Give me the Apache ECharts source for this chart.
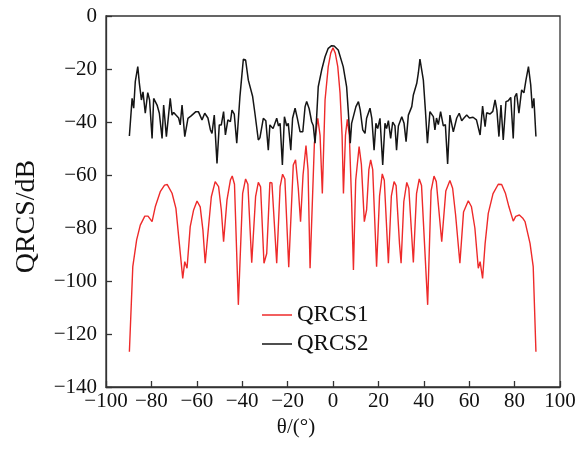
<!DOCTYPE html>
<html>
<head>
<meta charset="utf-8">
<script src="https://cdn.jsdelivr.net/npm/echarts@6/dist/echarts.min.js"></script>
<style>html,body{margin:0;padding:0;background:#fff}#c{width:587px;height:450px}</style>
</head>
<body>
<div id="c"></div>
<script>
const xTicks = [-100,-80,-60,-40,-20,0,20,40,60,80,100];
const yTicks = [-140,-120,-100,-80,-60,-40,-20,0];
const seriesNames = ['QRCS1','QRCS2'];

const redTheta = [-89.7,-88.2,-86.5,-84.9,-82.9,-81.5,-79.7,-78.3,-76.1,-74.2,-73.0,-70.9,-69.2,-67.7,-66.2,-65.3,-64.3,-62.9,-61.4,-59.9,-58.5,-57.3,-56.3,-55.1,-53.6,-51.9,-50.4,-49.2,-48.2,-46.7,-45.2,-44.4,-43.4,-41.7,-39.8,-38.5,-37.5,-35.8,-34.1,-32.9,-31.9,-30.4,-29.2,-27.8,-26.9,-24.8,-23.3,-22.2,-21.2,-19.5,-17.5,-16.5,-15.3,-14.3,-13.2,-11.9,-11.0,-10.1,-8.2,-6.7,-5.7,-4.7,-3.5,-2.1,-1.0,0.0,1.0,2.1,3.1,4.0,4.6,5.5,6.3,7.2,8.2,9.0,10.0,11.5,12.5,13.8,14.8,15.8,16.6,17.5,19.2,20.5,21.7,22.6,24.4,25.7,26.9,27.8,29.3,30.0,31.2,32.5,33.4,35.4,36.8,38.0,39.0,41.7,43.2,44.5,45.5,47.9,49.7,51.5,52.7,54.0,55.9,57.5,59.6,61.0,62.5,64.0,64.8,65.9,67.0,68.4,70.5,72.8,74.3,76.0,77.5,79.4,80.5,82.1,83.5,84.6,86.8,88.2,89.4];
const redDb = [-126.7,-94.6,-84.5,-78.9,-75.5,-75.5,-77.6,-72.0,-66.3,-63.8,-63.6,-66.9,-72.6,-85.8,-99.0,-92.7,-95.2,-79.5,-73.2,-69.8,-72.0,-80.8,-93.3,-82.0,-68.2,-62.5,-64.4,-73.2,-85.2,-69.4,-61.9,-60.4,-63.5,-109.0,-66.9,-61.5,-63.5,-93.1,-68.2,-62.8,-64.5,-93.3,-89.6,-62.8,-63.0,-93.3,-64.4,-59.7,-61.5,-94.8,-56.2,-54.3,-65.0,-77.6,-60.0,-48.9,-58.0,-95.2,-48.0,-38.6,-45.0,-67.0,-31.7,-19.1,-14.0,-12.0,-14.0,-19.1,-29.0,-45.0,-67.0,-45.0,-39.0,-45.0,-70.0,-95.8,-62.0,-49.3,-56.0,-77.6,-73.2,-58.0,-54.3,-58.0,-94.6,-68.0,-59.6,-62.0,-93.3,-68.0,-62.5,-64.0,-86.0,-93.3,-70.0,-62.8,-65.0,-93.0,-67.0,-61.5,-64.0,-109.0,-66.0,-60.4,-62.5,-85.2,-66.0,-62.1,-65.0,-75.0,-93.3,-74.0,-69.7,-72.0,-80.0,-95.2,-92.7,-99.0,-86.0,-74.5,-67.0,-63.5,-63.6,-67.0,-72.0,-77.4,-75.6,-75.1,-76.2,-77.6,-85.8,-94.6,-126.7];

const blackTheta = [-89.7,-88.5,-87.8,-87.1,-86.0,-85.3,-84.4,-83.7,-82.7,-81.6,-80.8,-79.7,-79.0,-77.5,-76.5,-75.3,-74.6,-73.4,-71.7,-70.9,-70.2,-69.4,-68.7,-68.0,-67.3,-66.5,-65.3,-63.9,-62.5,-61.8,-60.4,-59.3,-57.7,-56.5,-55.1,-54.0,-53.3,-52.3,-51.1,-50.1,-49.2,-48.2,-47.4,-46.3,-45.2,-44.5,-43.5,-42.4,-41.0,-40.2,-39.5,-38.5,-37.3,-35.4,-34.4,-32.9,-32.2,-30.7,-29.6,-28.5,-27.8,-26.4,-24.8,-24.0,-23.3,-22.3,-21.4,-20.4,-19.7,-18.6,-17.8,-16.7,-15.7,-14.5,-13.3,-12.3,-11.6,-10.5,-9.4,-8.7,-7.9,-7.2,-6.5,-5.0,-3.5,-2.1,-0.6,0.5,2.3,4.5,6.0,6.7,7.6,8.2,8.9,10.1,11.2,12.0,13.1,14.1,14.8,16.3,17.1,18.1,18.9,19.7,20.7,21.9,22.9,23.6,24.4,25.4,26.3,27.3,28.0,28.8,30.3,31.3,32.2,33.2,34.7,35.4,36.9,37.6,38.3,39.0,39.8,40.7,41.6,42.7,44.2,44.9,45.6,46.4,47.4,48.6,49.5,50.5,51.5,53.0,54.5,55.6,56.7,57.7,58.9,60.1,61.7,63.2,64.8,65.9,67.0,67.7,69.2,70.4,71.4,72.2,73.1,74.0,75.0,76.2,77.2,78.3,79.4,80.1,80.9,81.9,83.1,84.1,85.0,86.1,87.1,87.8,88.5,89.4];
const blackDb = [-45.3,-31.1,-34.8,-24.8,-19.1,-25.4,-31.7,-28.6,-36.7,-28.9,-31.7,-46.2,-31.1,-33.6,-36.7,-46.2,-33.6,-45.5,-31.1,-37.4,-36.4,-37.2,-36.6,-38.5,-41.1,-33.6,-45.5,-38.6,-37.7,-38.2,-36.1,-36.1,-39.2,-36.7,-38.5,-43.0,-44.3,-37.4,-55.6,-41.1,-41.1,-36.1,-44.9,-39.2,-39.9,-35.5,-37.0,-48.0,-30.4,-22.9,-16.3,-16.6,-24.2,-30.4,-36.7,-46.8,-46.0,-38.6,-39.5,-50.6,-41.1,-42.5,-38.6,-41.5,-40.5,-56.2,-38.0,-41.5,-40.5,-50.6,-38.6,-34.8,-38.6,-43.7,-43.7,-34.2,-32.3,-35.0,-39.9,-41.3,-48.0,-38.0,-26.7,-20.4,-15.4,-12.2,-11.2,-11.3,-12.8,-19.1,-26.7,-35.5,-48.0,-40.5,-41.0,-34.2,-32.3,-35.5,-43.0,-44.3,-38.6,-34.8,-38.6,-50.6,-40.5,-42.5,-38.6,-56.2,-40.5,-42.5,-39.5,-46.2,-40.0,-41.5,-50.6,-41.5,-38.0,-40.5,-47.4,-37.4,-34.2,-29.8,-25.4,-21.5,-16.3,-16.3,-24.2,-35.5,-48.0,-36.1,-38.0,-43.0,-38.5,-41.0,-36.1,-41.5,-41.0,-55.8,-37.4,-43.7,-38.5,-36.7,-39.5,-38.5,-37.4,-38.5,-38.2,-39.2,-44.9,-34.0,-41.8,-36.5,-37.0,-36.0,-31.7,-35.5,-45.5,-33.6,-46.8,-32.3,-32.0,-30.7,-46.2,-30.5,-29.2,-36.7,-27.9,-29.0,-24.2,-19.1,-26.0,-34.8,-31.1,-45.5];

const zip = (a, b) => a.map((v, i) => [v, b[i]]);
const fmt = v => String(v).replace('-', '\u2212');
const FONT = '"Liberation Serif", "Times New Roman", serif';
const axisCol = '#333';

const chart = echarts.init(document.getElementById('c'), null, {renderer: 'canvas'});
chart.setOption({
  animation: false,
  backgroundColor: '#fff',
  textStyle: {fontFamily: FONT},
  grid: {left: 106, right: 27, top: 16, bottom: 63, show: true, borderColor: axisCol, borderWidth: 1.3},
  legend: {
    data: seriesNames,
    orient: 'vertical',
    left: 262, top: 303, padding: 0,
    icon: 'rect',
    itemWidth: 30, itemHeight: 1.5, itemGap: 5,
    textStyle: {fontFamily: FONT, fontSize: 23, color: '#111', lineHeight: 24}
  },
  xAxis: {
    type: 'value', min: xTicks[0], max: xTicks[xTicks.length - 1], interval: 20,
    name: 'θ/(°)', nameLocation: 'middle', nameGap: 17,
    nameTextStyle: {fontFamily: FONT, fontSize: 21, color: '#111', padding: [0, 74, 0, 0]},
    axisLine: {show: true, onZero: false, lineStyle: {color: axisCol, width: 1.3}},
    axisTick: {show: true, inside: true, length: 6, lineStyle: {color: axisCol, width: 1.3}},
    axisLabel: {margin: 4, fontFamily: FONT, fontSize: 21, color: '#111', formatter: fmt},
    splitLine: {show: false}
  },
  yAxis: {
    type: 'value', min: yTicks[0], max: yTicks[yTicks.length - 1], interval: 20,
    name: 'QRCS/dB', nameLocation: 'middle', nameGap: 65,
    nameTextStyle: {fontFamily: FONT, fontSize: 28, color: '#111', padding: [0, 30, 0, 0]},
    axisLine: {show: true, onZero: false, lineStyle: {color: axisCol, width: 1.3}},
    axisTick: {show: true, inside: true, length: 6, lineStyle: {color: axisCol, width: 1.3}},
    axisLabel: {margin: 9, fontFamily: FONT, fontSize: 21, color: '#111', formatter: fmt},
    splitLine: {show: false}
  },
  series: [
    {name: seriesNames[0], type: 'line', data: zip(redTheta, redDb), symbol: 'none',
     lineStyle: {color: '#ee2a2a', width: 1.4}, itemStyle: {color: '#ee2a2a'}, z: 2},
    {name: seriesNames[1], type: 'line', data: zip(blackTheta, blackDb), symbol: 'none',
     lineStyle: {color: '#151515', width: 1.5}, itemStyle: {color: '#151515'}, z: 3}
  ]
});
</script>
</body>
</html>
